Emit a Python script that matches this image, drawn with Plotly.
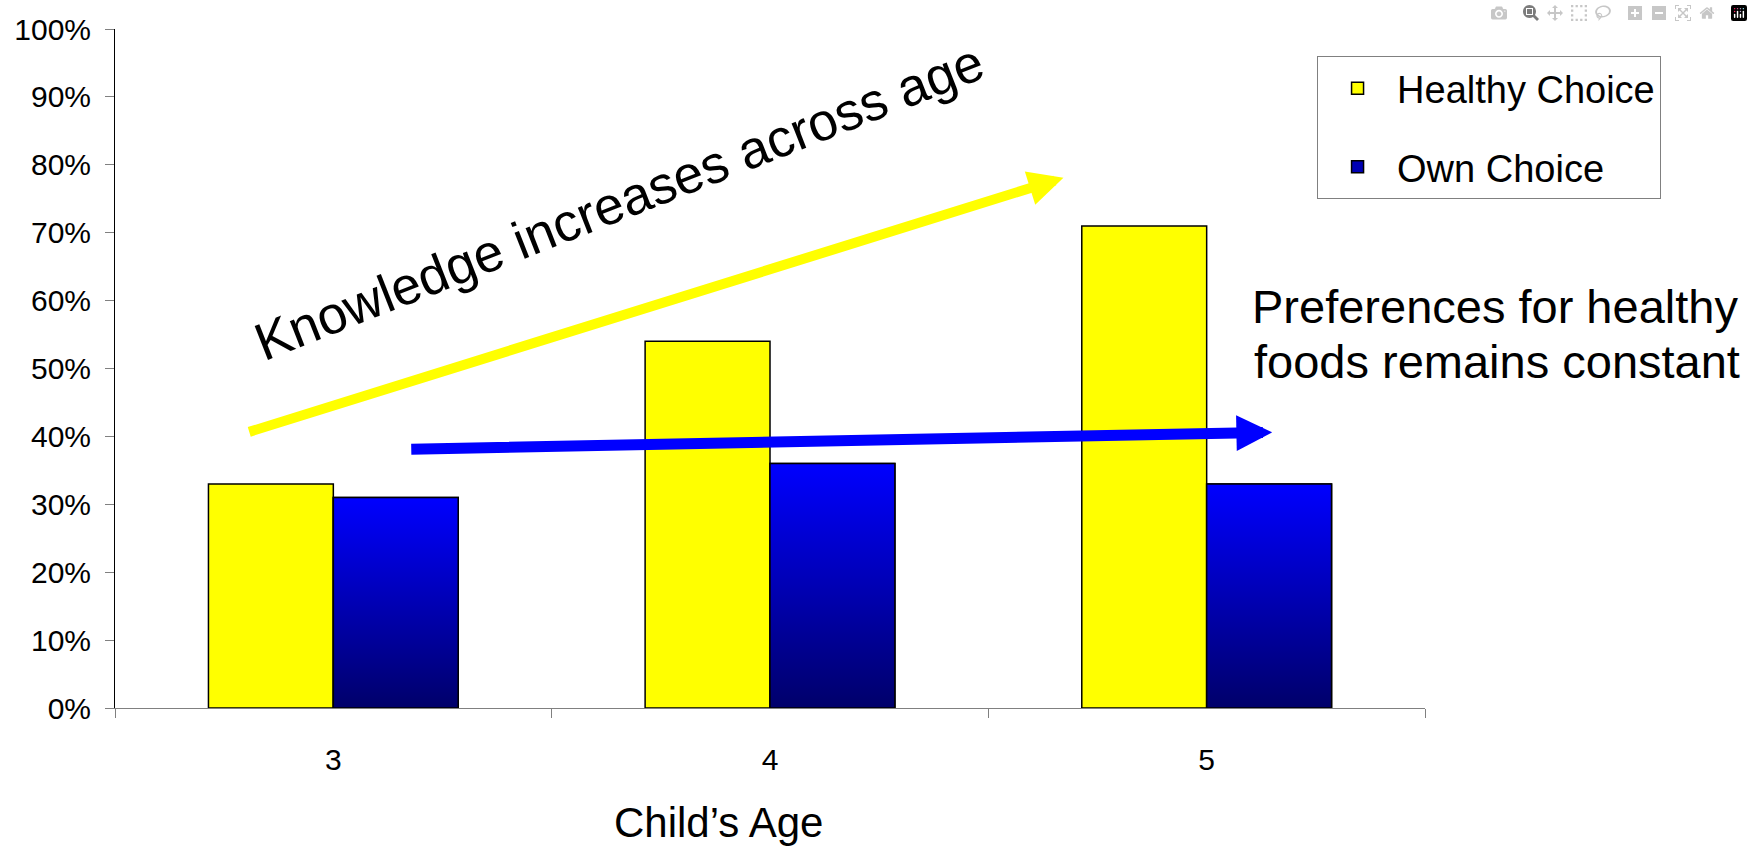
import plotly.graph_objects as go

# ---- data ----
ages = [3, 4, 5]
age_labels = ["3", "4", "5"]
healthy_choice = [33, 54, 71]   # percent
own_choice = [31, 36, 33]       # percent
y_ticks = [0, 10, 20, 30, 40, 50, 60, 70, 80, 90, 100]
y_tick_labels = ["0%", "10%", "20%", "30%", "40%", "50%", "60%", "70%", "80%", "90%", "100%"]

# ---- style ----
FONT = "Liberation Sans, Arial, sans-serif"
BAR_W = 0.286
YELLOW = "#FFFF00"
BLUE_TOP = "#0000FF"
BLUE_BOTTOM = "#00006A"

fig = go.Figure()

fig.add_trace(go.Bar(
    x=ages, y=healthy_choice, name="Healthy Choice",
    offset=-BAR_W, width=BAR_W,
    marker=dict(color=YELLOW, line=dict(color="black", width=1.5)),
    legendgroup="h",
))
fig.add_trace(go.Bar(
    x=ages, y=own_choice, name="Own Choice",
    offset=0, width=BAR_W,
    marker=dict(color="#0000B4", line=dict(color="black", width=1.5)),
    legendgroup="o",
))

# vertical gradient fill for the Own Choice bars (built from the same data)
for a, v in zip(ages, own_choice):
    fig.add_trace(go.Scatter(
        x=[a, a + BAR_W, a + BAR_W, a, a],
        y=[0, 0, v, v, 0],
        mode="lines", fill="toself",
        fillgradient=dict(type="vertical",
                          colorscale=[[0, BLUE_BOTTOM], [1, BLUE_TOP]]),
        line=dict(color="black", width=1.5),
        showlegend=False, hoverinfo="skip",
    ))

# arrows
fig.add_annotation(x=4.672, y=78.1, ax=2.804, ay=40.6,
                   xref="x", yref="y", axref="x", ayref="y",
                   text="", showarrow=True, arrowhead=2, arrowsize=0.7,
                   arrowwidth=10, arrowcolor=YELLOW, standoff=0)
fig.add_annotation(x=5.150, y=40.6, ax=3.175, ay=38.1,
                   xref="x", yref="y", axref="x", ayref="y",
                   text="", showarrow=True, arrowhead=2, arrowsize=0.65,
                   arrowwidth=11, arrowcolor=BLUE_TOP, standoff=0)

# text annotations
fig.add_annotation(x=3.655, y=74.6, xref="x", yref="y",
                   xanchor="center", yanchor="middle",
                   text="Knowledge increases across age", showarrow=False,
                   textangle=-21.5, font=dict(family=FONT, size=53, color="black"))
fig.add_annotation(x=1.0534, y=0.591, xref="paper", yref="paper",
                   xanchor="center", yanchor="middle",
                   text="Preferences for healthy", showarrow=False,
                   font=dict(family=FONT, size=47, color="black"))
fig.add_annotation(x=1.055, y=0.5096, xref="paper", yref="paper",
                   xanchor="center", yanchor="middle",
                   text="foods remains constant", showarrow=False,
                   font=dict(family=FONT, size=47, color="black"))
fig.add_annotation(x=0.461, y=-0.169, xref="paper", yref="paper",
                   xanchor="center", yanchor="middle",
                   text="Child’s Age", showarrow=False,
                   font=dict(family=FONT, size=42, color="black"))

fig.update_layout(
    width=1753, height=848,
    margin=dict(l=115, r=328, t=23, b=140),
    paper_bgcolor="white", plot_bgcolor="white",
    barmode="overlay",
    font=dict(family=FONT, color="black"),
    showlegend=True,
    legend=dict(
        x=0.9176, y=0.96, xanchor="left", yanchor="top",
        font=dict(family=FONT, size=38, color="black"),
        bordercolor="#808080", borderwidth=1, bgcolor="white",
        traceorder="grouped", tracegroupgap=26,
        itemwidth=69, entrywidth=380, entrywidthmode="pixels",
    ),
    xaxis=dict(
        type="linear", range=[2.5, 5.5],
        tickvals=ages, ticktext=age_labels, ticks="",
        tickfont=dict(family=FONT, size=30, color="black"),
        ticklabelstandoff=25,
        showline=True, linecolor="#808080", linewidth=1,
        showgrid=False, zeroline=False,
        minor=dict(tickvals=[2.5, 3.5, 4.5, 5.5], ticks="outside",
                   ticklen=9, tickcolor="#808080", tickwidth=1, showgrid=False),
    ),
    yaxis=dict(
        range=[0, 100], tickvals=y_ticks, ticktext=y_tick_labels,
        ticks="outside", ticklen=9, tickcolor="#808080", tickwidth=1,
        tickfont=dict(family=FONT, size=30, color="black"),
        ticklabelstandoff=8,
        showline=True, linecolor="black", linewidth=1,
        showgrid=False, zeroline=False,
    ),
)

fig.write_html("out.html",
               post_script="document.body.style.margin='0';document.body.style.overflow='hidden';")
